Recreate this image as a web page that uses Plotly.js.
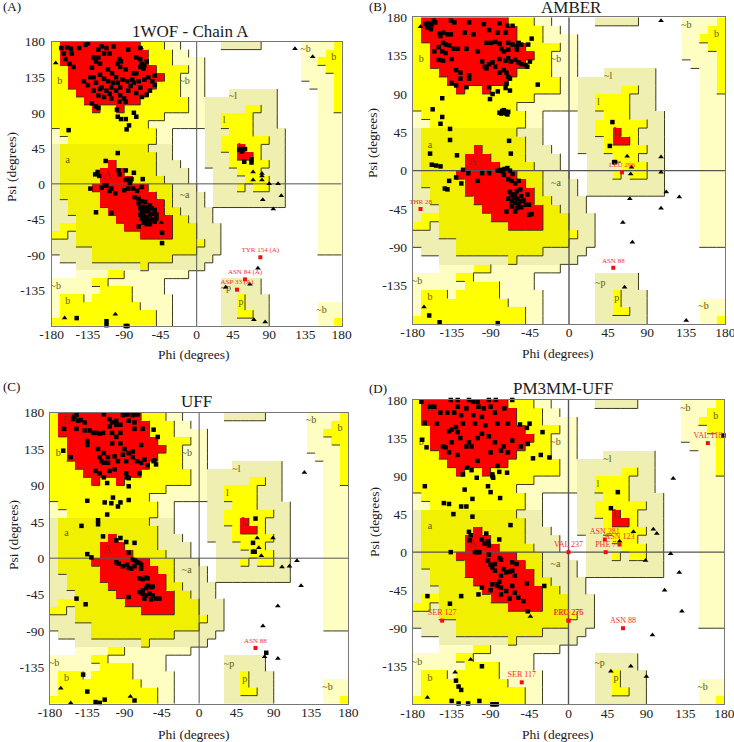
<!DOCTYPE html>
<html><head><meta charset="utf-8">
<script src="https://cdn.plot.ly/plotly-3.0.1.min.js"></script>
<style>html,body{margin:0;padding:0;background:#fff;overflow:hidden}</style></head>
<body><div id="chart" style="width:734px;height:742px"></div>
<script>
// Ramachandran region map, rows from psi 180 down to -180, 10-degree cells, run-length coded
const regionRows = [
"y1 r10 y3 p2 .5 k5 .5 p4 y1","y1 r11 y3 p2 .14 p3 y2","y1 r11 y3 p4 .12 p2 y3","y2 r11 y4 p2 .12 p3 y2",
"y2 r12 y2 p3 .12 p4 y1","y2 r11 y3 p3 .13 p3 y1","y3 r9 y4 p3 .3 k6 .5 p2 y1","y4 r7 y6 p2 k9 .5 p2 y1",
"y5 r1 y2 r1 y8 p2 k5 y2 k2 .5 p2 y1","y14 p5 k2 y4 k3 .5 p3","y12 p7 k2 y4 k3 .5 p3","p1 y12 p2 .4 k3 y3 k4 .4 p3",
"p2 y11 p2 .4 k2 y6 k2 .4 p3","k1 o11 k3 .4 k2 y2 r1 y2 k3 .4 p3","k1 o12 k2 .4 k3 y1 r2 y1 k3 .4 p3","k1 o6 r1 o5 k3 .3 k3 y5 k2 .4 p3",
"k1 o5 r3 o4 k4 .3 k3 y3 k3 .4 p3","k1 o5 r4 o4 k3 .3 k4 y3 k2 .4 p3","k1 o4 r7 o3 k3 .2 k3 y1 k1 y2 k2 .4 p3","k1 o5 r7 o2 k4 .1 k9 .4 p3",
"k2 o4 r8 o1 k4 .1 k9 .4 p3","k2 o5 r7 o2 k4 .13 p3","k3 o5 r7 o2 k3 .13 p3","k1 y2 o6 r6 o3 k3 .12 p3",
"y2 k1 o8 r4 o3 k3 .12 p3","k3 o15 y1 k2 .12 p3","k5 o13 k3 .12 p3",".1 k4 o10 k5 .16",
".3 k8 o1 k7 .17",".3 p4 y2 p8 .19","p5 y2 p7 .7 k5 .10","p6 y4 p4 .7 k5 .10",
"p1 y3 p1 y5 p5 .6 k2 y1 k3 .9","p1 y10 p4 .6 k2 y1 k3 .6 p3","p1 y12 p2 .6 k2 y2 k2 .6 p3","y13 p2 .6 k6 .6 p2 y1"];
const regionCodes = ".pkyor";
const regionColors = ["#ffffff","#fffec2","#efefb2","#ffff00","#f0f000","#ff0000"];
const regionRanks = [0,1,1,2,2,3];

const xTickValues = [-180,-135,-90,-45,0,45,90,135,180];
const yTickValues = [-135,-90,-45,0,45,90,135,180];
const panelLetters = ["(A)","(B)","(C)","(D)"];
const panelTitles = ["1WOF - Chain A","AMBER","UFF","PM3MM-UFF"];

const regionLabelText = ["B","b","~b","~l","l","L","a","A","~a","~b","b","~p","p","~b","b","~b"];
const regionLabelPhi  = [-160,-170,-15,45,34,55,-160,-111,-15,-175,-160,36,55,135,170,155];
const regionLabelPsi  = [170,130,130,110,80,45,30,10,-15,-130,-149,-132,-150,170,160,-160];

const squaresA = [[-168,172],[-165,165],[-161,173],[-156,171],[-155,165],[-163,158],[-158,152],[-153,148],[-146,172],[-135,178],[-138,176],[-128,160],[-122,170],[-118,174],[-115,165],[-112,172],[-122,160],[-120,152],[-125,155],[-108,165],[-103,174],[-85,170],[-70,172],[-96,158],[-98,152],[-95,148],[-94,155],[-88,145],[-75,160],[-70,158],[-68,152],[-65,150],[-62,155],[-70,148],[-66,146],[-130,147],[-132,135],[-128,135],[-125,128],[-120,138],[-115,133],[-110,130],[-120,120],[-118,122],[-122,112],[-112,118],[-108,114],[-106,122],[-100,135],[-98,128],[-95,122],[-100,118],[-95,112],[-90,108],[-88,104],[-85,118],[-80,132],[-75,140],[-72,130],[-78,128],[-70,122],[-65,132],[-60,135],[-55,130],[-52,137],[-52,125],[-58,118],[-62,113],[-68,110],[-75,115],[-130,102],[-125,98],[-122,96],[-140,130],[-135,125],[-128,118],[-115,110],[-105,140],[-110,145],[-104,128],[-92,132],[-86,130],[-82,124],[-78,140],[-106,108],[-96,104],[-99,94],[-98,85],[-94,82],[-88,82],[-78,90],[-75,85],[-84,74],[-87,69],[-159,68],
[-98,39],[-113,29],[-126,12],[-123,15],[-121,10],[-132,-6],[-114,-2],[-112,-2],[-118,-5],[-108,-9],[-101,-12],[-106,-6],[-97,17],[-88,17],[-78,14],[-96,12],[-88,5],[-85,6],[-81,6],[-83,1],[-67,6],[-79,-6],[-74,-9],[-85,-6],[-90,-8],[-68,-4],[-125,-36],[-106,-37],[-77,-17],[-72,-19],[-68,-22],[-64,-23],[-72,-25],[-66,-29],[-62,-30],[-58,-27],[-70,-31],[-68,-35],[-64,-35],[-60,-34],[-56,-31],[-52,-33],[-70,-39],[-66,-41],[-62,-42],[-58,-39],[-54,-38],[-50,-39],[-68,-44],[-64,-46],[-60,-47],[-56,-45],[-52,-48],[-50,-44],[-66,-49],[-58,-51],[-62,-51],[-72,-54],[-43,-62],[-43,-75],
[53,43],[56,41],[60,44],[55,44],[68,31],[68,27],[59,28],[-149,-170],[-112,-174],[-112,-179],[-88,-180],[-86,-180]];
const trianglesA = [[-175,153],[-69,172],[122,171],[144,161],[70,5],[81,5],[81,10],[81,13],[70,15],[90,0],[101,0],[105,-15],[82,-20],[95,-32],[66,-127],[76,-107],[71,-172],[85,-175],[-164,-170],[-101,-165],[36,-131],[-44,-49],[-69,-5]];
const outliersA = [[79,-93],[60,-121],[50,-134]];
const outlierNamesA = ["TYR 154 (A)","ASN 84 (A)","ASP 33 (A)"];

const squaresB = [[-165,172],[-162,173],[-160,170],[-158,172],[-163,168],[-159,166],[-156,176],[-154,174],[-136,176],[-132,174],[-115,174],[-98,172],[-80,173],[-71,170],[-65,170],[-149,161],[-145,162],[-140,160],[-136,160],[-120,162],[-110,160],[-92,165],[-82,162],[-73,162],[-148,158],[-145,150],[-150,145],[-155,140],[-142,148],[-138,147],[-133,143],[-146,140],[-142,138],[-128,143],[-118,143],[-105,140],[-95,150],[-90,150],[-85,151],[-80,149],[-70,150],[-65,148],[-60,146],[-58,150],[-55,148],[-60,142],[-70,142],[-75,140],[-78,143],[-47,148],[-43,155],[-150,130],[-145,129],[-135,131],[-130,118],[-125,115],[-125,108],[-115,112],[-115,108],[-100,128],[-97,122],[-95,120],[-92,125],[-88,127],[-85,122],[-80,131],[-73,129],[-70,132],[-67,128],[-62,130],[-58,127],[-55,125],[-50,124],[-48,122],[-45,128],[-80,115],[-75,118],[-72,115],[-68,108],[-135,103],[-130,100],[-118,98],[-92,98],[-70,110],[-36,101],[-146,85],[-157,72],[-146,63],[-148,55],[-137,49],[-137,36],[-160,20],[-129,18],[-158,7],[-153,6],[-148,5],[-122,1],[-138,-12],[-143,-21],[-140,-22],[-130,-8],[-124,-15],[-91,84],[-88,90],[-82,93],[-73,97],[-68,94],[-72,102],[-77,70],[-75,71],[-73,69],[-76,68],[-78,67],[-80,68],[-72,67],[-71,66],[-70,69],[-69,35],[-67,20],
[-116,-3],[-100,-3],[-92,-3],[-82,0],[-80,0],[-78,1],[-76,-2],[-74,2],[-71,3],[-68,0],[-65,-4],[-70,-10],[-66,-12],[-62,-15],[-58,-12],[-75,-5],[-105,-12],[-68,-25],[-66,-28],[-62,-28],[-60,-24],[-56,-22],[-70,-33],[-64,-32],[-60,-33],[-55,-30],[-52,-35],[-48,-28],[-66,-36],[-62,-38],[-58,-40],[-56,-36],[-50,-40],[-46,-40],[-66,-42],[-60,-44],[-55,-43],[-72,-48],[-62,-48],[-46,-52],[-43,-51],
[50,57],[47,29],[53,10],[52,10],[-161,-170],[-149,-178],[-82,-179]];
const trianglesB = [[-171,169],[106,176],[67,17],[106,16],[72,4],[106,-2],[71,-4],[112,-25],[127,-31],[70,-33],[106,-44],[62,-61],[73,-84],[64,-137],[135,-176],[-167,-160]];
const outliersB = [[-171,-45],[61,-2],[51,-114]];
const outlierNamesB = ["THR 28","LEU 296","ASN 88"];

const squaresC = [[-151,175],[-148,177],[-152,172],[-146,170],[-143,171],[-138,168],[-115,178],[-108,172],[-105,168],[-100,170],[-92,177],[-89,178],[-86,178],[-80,177],[-76,178],[-74,178],[-163,160],[-148,160],[-138,158],[-132,158],[-128,155],[-124,155],[-120,154],[-116,155],[-108,163],[-100,165],[-95,165],[-85,170],[-78,168],[-105,155],[-100,150],[-95,155],[-78,160],[-68,160],[-55,159],[-50,150],[-135,145],[-135,140],[-122,135],[-115,130],[-105,142],[-95,142],[-90,135],[-85,130],[-80,132],[-70,140],[-155,125],[-120,125],[-118,120],[-115,118],[-110,125],[-110,118],[-102,126],[-98,120],[-92,128],[-88,120],[-80,125],[-75,120],[-70,118],[-66,122],[-62,115],[-55,120],[-52,116],[-54,121],[-125,108],[-120,105],[-115,100],[-108,108],[-102,110],[-88,105],[-87,100],[-85,99],[-72,105],[-164,133],[-111,93],[-85,89],[-135,71],[-114,69],[-104,75],[-106,68],[-98,64],[-95,69],[-85,72],[-111,54],[-122,47],[-122,42],[-142,40],[-116,27],[-135,5],[-130,1],[-148,-50],[-137,-57],[-140,-144],[-135,-165],[-125,-178],[-120,-179],[-114,-175],[-78,-176],
[-95,25],[-100,22],[-88,20],[-78,19],[-85,7],[-100,-5],[-97,-7],[-92,-10],[-87,-8],[-85,-12],[-82,-13],[-80,-2],[-77,-3],[-75,-5],[-72,-6],[-70,-8],[-78,-10],[-70,-13],[-72,-25],[-68,-26],[-65,-24],[-62,-25],[-62,-34],[-58,-36],[-56,-35],[-64,-37],[-68,-40],[-72,-42],[-68,-44],[-64,-46],[-60,-44],[-56,-46],[-52,-50],[-48,-50],[-58,-51],[-66,-50],[-85,-48],[68,49],[65,19],[67,8],[65,8],[81,-117]];
const trianglesC = [[127,106],[89,25],[70,25],[72,13],[75,3],[118,-3],[109,-10],[100,-11],[123,-34],[95,-59],[77,-84],[79,-122],[95,-124],[-167,-161],[-155,-179],[-83,-171]];
const outliersC = [[68,-111]];
const outlierNamesC = ["ASN 88"];

const squaresD = [[-170,178],[-136,180],[-128,180],[-115,180],[-110,178],[-105,178],[-92,180],[-84,180],[-65,180],[-160,172],[-155,172],[-128,172],[-118,170],[-104,172],[-98,170],[-90,172],[-148,165],[-140,165],[-132,165],[-124,162],[-110,162],[-100,160],[-85,165],[-74,170],[-166,153],[-152,152],[-130,148],[-135,145],[-138,143],[-128,142],[-122,152],[-108,152],[-96,150],[-82,152],[-70,152],[-56,151],[-48,147],[-45,152],[-169,133],[-164,124],[-145,125],[-142,124],[-135,130],[-125,135],[-115,130],[-112,125],[-105,135],[-100,140],[-92,137],[-85,130],[-65,132],[-55,125],[-47,128],[-30,142],[-138,118],[-128,115],[-118,125],[-105,108],[-90,118],[-78,120],[-75,125],[-70,118],[-82,102],[-117,100],[-122,92],[-112,97],[-41,111],[-32,115],[-22,112],[179,138],[-166,78],[57,71],[49,52],[-47,-70],[-28,-40],[-67,32],[-111,42],[-118,54],[-124,54],[-133,45],[-138,57],[-144,58],[-120,74],[-111,63],[-93,78],[-90,71],[-79,64],[-106,88],[-88,92],[-88,90],[-87,88],[-80,95],[-71,94],[-163,-52],[-137,-61],[-124,-52],[-104,-50],[-136,0],[-100,-135],[-130,-152],[-127,-159],[-124,-163],[-135,-176],[-103,-176],[-127,-179],[-116,-179],[-88,-180],[-86,-180],[-83,-180],
[-115,24],[-113,20],[-95,22],[-100,15],[-93,13],[-80,15],[-97,10],[-92,8],[-114,14],[-108,0],[-105,0],[-103,0],[-92,-3],[-80,-7],[-78,-9],[-93,-10],[-90,-15],[-88,-18],[-85,-14],[-75,-20],[-65,-12],[-60,-14],[-65,-22],[-68,-23],[-72,-24],[-62,-28],[-78,-28],[-85,-22],[-80,-35],[-88,-38],[-82,-40],[-78,-42],[-90,-45],[-100,-42],[-78,-50],[-68,-55],[-62,-48],[-58,-54],[-52,-58],[-48,-37],[-82,-38],[-65,-40],[-72,-46]];
const trianglesD = [[121,87],[98,27],[102,22],[75,24],[59,13],[118,-2],[89,-10],[128,-24],[111,-45],[131,-70],[97,-98],[72,-135],[90,-147],[49,-141],[-44,-76],[-113,-127],[-131,-142],[-163,-172]];
const outliersD = [[161,129],[42,15],[59,9],[0,0],[43,0],[-146,-81],[0,-81],[0,-81],[63,-90],[-54,-154]];
const outlierNamesD = ["VAL 118","ASN 281","ASN 123","VAL 237","PHE 7","SER 127","PRO 275","LEU 276","ASN 88","SER 117"];

const squares=[squaresA,squaresB,squaresC,squaresD], triangles=[trianglesA,trianglesB,trianglesC,trianglesD];
const outliers=[outliersA,outliersB,outliersC,outliersD], outlierNames=[outlierNamesA,outlierNamesB,outlierNamesC,outlierNamesD];
// frame in pixels: left,right,top,bottom
const frames=[[51.7,341.7,41.7,326],[412.7,725.3,17.3,324],[50,348.3,412.7,703.7],[412.7,724.3,400,704.3]];
const titlePos=[[190,31],[571,8],[196,401],[563,388]];
const letterPos=[[1,7],[367,7],[1,386],[367,388]];
const xTitlePos=[[194,354],[558,353],[194,734],[558,734]];
const yTitlePos=[[11,167],[373,143],[13,535],[374,522]];
const yLabelShift=[3,2,2,2];
const W=734,H=742,SERIF="Liberation Serif, Times New Roman, serif";

const grid=regionRows.map(r=>{const a=[];r.split(" ").forEach(t=>{for(let n=+t.slice(1);n>0;n--)a.push(regionCodes.indexOf(t[0]));});return a;});
const centersX=grid[0].map((_,j)=>-175+10*j), centersY=grid.map((_,i)=>175-10*i);
const steps=[];regionColors.forEach((c,i)=>{steps.push([i/6,c],[(i+1)/6,c]);});
const zv=grid.map(r=>r.map(v=>v+0.5));
const edgeX=[],edgeY=[];
grid.forEach((row,i)=>row.forEach((v,j)=>{
  const rk=regionRanks[v],l=-180+10*j,t=180-10*i;
  if(j<35&&rk>regionRanks[row[j+1]]){edgeX.push(l+10,l+10,null);edgeY.push(t,t-10,null);}
  if(i<35&&rk>regionRanks[grid[i+1][j]]){edgeX.push(l,l+10,null);edgeY.push(t-10,t-10,null);}
}));
const traces=[],layout={width:W,height:H,margin:{l:0,r:0,t:0,b:0},paper_bgcolor:"#fff",plot_bgcolor:"#fff",showlegend:false,annotations:[],font:{family:SERIF,color:"#222"}};
const bigLabel=t=>"ABL".includes(t);
const note=(pos,text,size,angle)=>({xref:"paper",yref:"paper",x:pos[0]/W,y:1-pos[1]/H,text:text,showarrow:false,textangle:angle||0,font:{family:SERIF,size:size,color:"#1a1a1a"},xanchor:"center",yanchor:"middle"});
frames.forEach((f,k)=>{
  const s=k?String(k+1):"",xa="x"+s,ya="y"+s;
  traces.push({type:"heatmap",x:centersX,y:centersY,z:zv,zmin:0,zmax:6,colorscale:steps,showscale:false,hoverinfo:"skip",xaxis:xa,yaxis:ya});
  traces.push({type:"scatter",mode:"lines",x:edgeX,y:edgeY,line:{color:"#3a3a20",width:1},hoverinfo:"skip",connectgaps:false,xaxis:xa,yaxis:ya});
  traces.push({type:"scatter",mode:"lines",x:[-180,180,null,0,0],y:[0,0,null,-180,180],line:{color:"#555",width:k%2?1.4:1},hoverinfo:"skip",xaxis:xa,yaxis:ya});
  traces.push({type:"scatter",mode:"text",x:regionLabelPhi,y:regionLabelPsi,text:regionLabelText,textfont:{family:SERIF,size:regionLabelText.map(t=>bigLabel(t)?12:10),color:regionLabelText.map(t=>bigLabel(t)?"#a02000":"#5a5a10")},hoverinfo:"skip",xaxis:xa,yaxis:ya});
  traces.push({type:"scatter",mode:"markers",x:squares[k].map(p=>p[0]),y:squares[k].map(p=>p[1]),marker:{symbol:"square",size:4.5,color:"#000"},cliponaxis:false,xaxis:xa,yaxis:ya});
  traces.push({type:"scatter",mode:"markers",x:triangles[k].map(p=>p[0]),y:triangles[k].map(p=>p[1]),marker:{symbol:"triangle-up",size:5,color:"#000"},cliponaxis:false,xaxis:xa,yaxis:ya});
  traces.push({type:"scatter",mode:"markers+text",x:outliers[k].map(p=>p[0]),y:outliers[k].map(p=>p[1]),text:outlierNames[k],textposition:"top center",textfont:{family:SERIF,size:k==3?8:7,color:"#f03030"},marker:{symbol:"square",size:4,color:"#f01010"},cliponaxis:false,xaxis:xa,yaxis:ya});
  const n=k?String(k+1):"";
  const common={range:[-180,180],tickmode:"array",ticks:"",ticklabeloverflow:"allow",showgrid:false,zeroline:false,showline:true,mirror:true,linecolor:"#777",linewidth:1,tickfont:{family:SERIF,size:13.5,color:"#222"}};
  layout["xaxis"+n]=Object.assign({},common,{domain:[f[0]/W,f[1]/W],anchor:ya,tickvals:xTickValues,ticktext:xTickValues.map(String),ticklabelstandoff:-4});
  layout["yaxis"+n]=Object.assign({},common,{domain:[1-f[3]/H,1-f[2]/H],anchor:xa,tickvals:yTickValues,ticktext:yTickValues.map(String),ticklabelstandoff:yLabelShift[k]});
  layout.annotations.push(note(titlePos[k],panelTitles[k],17));
  layout.annotations.push(note(xTitlePos[k],"Phi (degrees)",13.5));
  layout.annotations.push(note(yTitlePos[k],"Psi (degrees)",13.5,-90));
  layout.annotations.push({xref:"paper",yref:"paper",x:letterPos[k][0]/W,y:1-letterPos[k][1]/H,text:panelLetters[k],showarrow:false,font:{family:SERIF,size:13,color:"#111"},xanchor:"left",yanchor:"middle"});
});
Plotly.newPlot("chart",traces,layout,{displayModeBar:false,staticPlot:true});
</script></body></html>
